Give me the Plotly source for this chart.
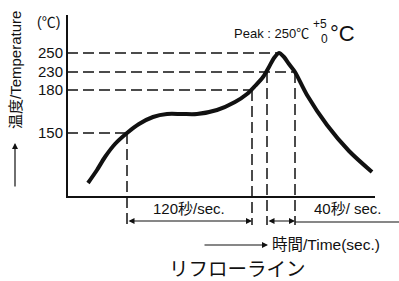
import plotly.graph_objects as go

# Schematic reflow profile (units: schematic time / schematic temperature height)
curve_time = [21, 30, 38, 48, 60, 72, 86, 100, 115, 130, 150, 168, 180, 188, 196, 202, 207, 212, 217, 222, 228, 240, 260, 282, 305]
curve_temp = [14, 27, 40, 53, 64, 73, 80, 83, 83, 83, 87, 95, 103, 111, 120, 130, 139, 144, 140, 133, 125, 102, 72, 46, 25]

# Temperature ticks (schematic positions) and labels
tick_pos = [64, 107, 125, 144]
tick_labels = ["150", "180", "230", "250"]

# Key points: (time, level) where guide lines meet the curve
h_guide_time = [60, 185, 228, 212]
h_guide_level = [64, 107, 125, 144]
v_guide_time = [60, 185, 200, 228]
v_guide_level = [64, 107, 125, 125]

AX_TOP = 182
AX_RIGHT = 308
BELOW = -28
DIM_Y = -24

W, H = 399, 281
ML, MR, MT, MB = 64, 0, 12, 51
PW, PH = W - ML - MR, H - MT - MB
font_family = "Liberation Sans, Arial, Noto Sans CJK JP"
black = "#111111"


def px(x):
    return (x - ML) / PW


def py(y):
    return (MT + PH - y) / PH


def note(x, y, text, size, xanchor="center", angle=0, family=font_family):
    return dict(x=px(x), y=py(y), xref="paper", yref="paper", text=text,
                xanchor=xanchor, yanchor="middle", textangle=angle, showarrow=False,
                font=dict(size=size, color=black, family=family))


fig = go.Figure()
# axes frame
fig.add_trace(go.Scatter(
    x=[0, 0, AX_RIGHT], y=[AX_TOP, 0, 0], mode="lines",
    line=dict(color=black, width=2), hoverinfo="skip", showlegend=False))
fig.add_trace(go.Scatter(
    x=curve_time, y=curve_temp, mode="lines",
    line=dict(color=black, width=4, shape="spline", smoothing=0.8),
    hoverinfo="skip", showlegend=False))

shapes = []
dash = "11px,5px"
for t, l in zip(h_guide_time, h_guide_level):
    shapes.append(dict(type="line", x0=0, x1=t, y0=l, y1=l, xref="x", yref="y",
                       line=dict(color=black, width=1.5, dash=dash)))
for t, l in zip(v_guide_time, v_guide_level):
    shapes.append(dict(type="line", x0=t, x1=t, y0=l, y1=BELOW, xref="x", yref="y",
                       line=dict(color=black, width=1.5, dash=dash)))
# line continuing right of 40 sec
shapes.append(dict(type="line", x0=v_guide_time[3], x1=335, y0=DIM_Y - 1, y1=DIM_Y - 1,
                   xref="x", yref="y", line=dict(color=black, width=1.2)))

annotations = []
# dimension arrows
for a, b in [(v_guide_time[0], v_guide_time[1]), (v_guide_time[2], v_guide_time[3])]:
    annotations.append(dict(x=b, y=DIM_Y, ax=a, ay=DIM_Y,
                            xref="x", yref="y", axref="x", ayref="y", text="",
                            showarrow=True, arrowhead=2, startarrowhead=2, arrowside="end+start",
                            arrowsize=1, arrowwidth=1.2, arrowcolor=black))
annotations.append(dict(x=122, y=-11, xref="x", yref="y", text="120秒/sec.",
                        xanchor="center", yanchor="middle",
                        showarrow=False, font=dict(size=15, color=black, family=font_family)))
annotations.append(dict(x=281, y=-11, xref="x", yref="y", text="40秒/ sec.",
                        xanchor="center", yanchor="middle",
                        showarrow=False, font=dict(size=15, color=black, family=font_family)))

# time axis label with arrow
annotations.append(dict(x=px(268), y=py(245), ax=-65, ay=0,
                        xref="paper", yref="paper", text="",
                        showarrow=True, arrowhead=2, arrowsize=1, arrowwidth=1.2, arrowcolor=black))
annotations.append(note(270, 245, "時間/Time(sec.)", 15.5, xanchor="left"))
annotations.append(note(237, 267, "リフローライン", 19.5, family="Noto Sans CJK JP"))

# y axis label with arrow
annotations.append(note(15, 70, "温度/Temperature", 15, angle=-90))
annotations.append(dict(x=px(15), y=py(143), ax=0, ay=45,
                        xref="paper", yref="paper", text="",
                        showarrow=True, arrowhead=2, arrowsize=1, arrowwidth=1.2, arrowcolor=black))
annotations.append(note(62, 22, "(℃)", 14, xanchor="right"))

# peak note
annotations.append(note(311, 33, "Peak : 250℃", 13, xanchor="right"))
annotations.append(note(320, 24, "+5", 12))
annotations.append(note(324, 39, "0", 12))
annotations.append(note(342, 33, "°C", 22))

fig.update_layout(
    width=W, height=H,
    margin=dict(l=ML, r=MR, t=MT, b=MB),
    paper_bgcolor="white", plot_bgcolor="white",
    xaxis=dict(range=[-3, 332], visible=False, fixedrange=True, automargin=False),
    yaxis=dict(range=[-33, 185], showgrid=False, zeroline=False, showline=False,
               tickvals=tick_pos, ticktext=tick_labels, ticks="", automargin=False,
               tickfont=dict(size=15, color=black, family=font_family), fixedrange=True),
    shapes=shapes,
    annotations=annotations,
    showlegend=False,
)
fig.write_html("out.html", config={"displayModeBar": False},
               post_script="document.body.style.margin='0';")
